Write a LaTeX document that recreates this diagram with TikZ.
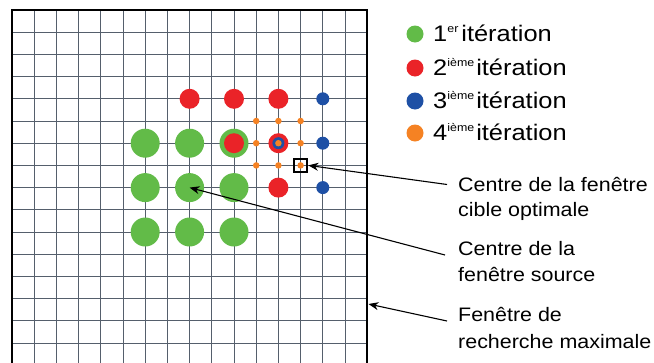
\documentclass[tikz,border=0pt]{standalone}
\usepackage{fontspec}
\setmainfont{Liberation Sans}
\newfontfamily\legfont[FakeStretch=1.13]{Liberation Sans}
\newfontfamily\lblfont[FakeStretch=1.1]{Liberation Sans}
\usetikzlibrary{arrows.meta}
\definecolor{cgreen}{RGB}{98,187,72}
\definecolor{cred}{RGB}{234,35,40}
\definecolor{cblue}{RGB}{30,80,165}
\definecolor{corange}{RGB}{245,130,35}
\definecolor{cgrid}{RGB}{85,95,108}
\newcommand{\supx}[1]{{\fontsize{11}{11}\selectfont\raisebox{9pt}{#1}}}
\begin{document}
\begin{tikzpicture}[x=1pt,y=-1pt,
 dot/.style={circle,inner sep=0pt,draw=none},
 gdot/.style={dot,fill=cgreen,minimum size=29pt},
 rdot/.style={dot,fill=cred,minimum size=20pt},
 bdot/.style={dot,fill=cblue,minimum size=13pt},
 odot/.style={dot,fill=corange,minimum size=6.5pt},
 legdot/.style={dot,minimum size=17pt},
 gridline/.style={cgrid,line width=0.9pt},
 frameline/.style={black,line width=2pt},
 arr/.style={line width=1.1pt,-{Stealth[length=10pt,width=8pt]}},
 leg/.style={anchor=base west,inner sep=0pt,font=\legfont\fontsize{22.5}{27}\selectfont},
 lbl/.style={anchor=base west,inner sep=0pt,font=\lblfont\fontsize{19.5}{24}\selectfont},
 boxsq/.style={draw=black,line width=2.5pt,minimum size=13pt,inner sep=0pt}
]
\useasboundingbox (0,0) rectangle (654,362);
\fill[white] (0,0) rectangle (654,362);
\begin{scope}
\clip (0,0) rectangle (654,362);
\foreach \k in {1,...,15} { \draw[gridline] ({12+22.2*\k},10) -- ({12+22.2*\k},370); }
\foreach \k in {1,...,16} { \draw[gridline] (12,{10+22.2*\k}) -- (367.2,{10+22.2*\k}); }
\draw[frameline] (12,370) -- (12,10) -- (367.2,10) -- (367.2,370);
\end{scope}
\coordinate (fr) at (368.5,304);
\begin{scope}[shift={(12,10)},x=22.2pt,y=-22.2pt]
 % 1st iteration
 \node[gdot] (g66) at (6,6) {};
 \node[gdot] (g86) at (8,6) {};
 \node[gdot] (g106) at (10,6) {};
 \node[gdot] (g68) at (6,8) {};
 \node[gdot] (g88) at (8,8) {};
 \node[gdot] (g108) at (10,8) {};
 \node[gdot] (g610) at (6,10) {};
 \node[gdot] (g810) at (8,10) {};
 \node[gdot] (g1010) at (10,10) {};
 % 2nd iteration
 \node[rdot] (r84) at (8,4) {};
 \node[rdot] (r104) at (10,4) {};
 \node[rdot] (r124) at (12,4) {};
 \node[rdot] (r106) at (10,6) {};
 \node[rdot] (r126) at (12,6) {};
 \node[rdot] (r128) at (12,8) {};
 % 3rd iteration
 \node[bdot] (b144) at (14,4) {};
 \node[bdot] (b146) at (14,6) {};
 \node[bdot] (b148) at (14,8) {};
 \node[bdot,minimum size=12pt] (b126) at (12,6) {};
 % 4th iteration
 \node[odot] (o115) at (11,5) {};
 \node[odot] (o125) at (12,5) {};
 \node[odot] (o135) at (13,5) {};
 \node[odot] (o116) at (11,6) {};
 \node[odot] (o126) at (12,6) {};
 \node[odot] (o136) at (13,6) {};
 \node[odot] (o117) at (11,7) {};
 \node[odot] (o127) at (12,7) {};
 \node[odot] (o137) at (13,7) {};
 \node[boxsq] (box) at (13,7) {};
\end{scope}
% legend
\node[legdot,fill=cgreen] (l1) at (415,34) {};
\node[legdot,fill=cred] (l2) at (415,68) {};
\node[legdot,fill=cblue] (l3) at (415,101) {};
\node[legdot,fill=corange] (l4) at (415,133) {};
\node[leg] (lt1) at (433,41) {1\supx{er}\hspace{3pt}itération};
\node[leg] (lt2) at (433,75) {2\supx{ième}\hspace{2pt}itération};
\node[leg] (lt3) at (433,108) {3\supx{ième}\hspace{2pt}itération};
\node[leg] (lt4) at (433,140) {4\supx{ième}\hspace{2pt}itération};
% labels
\node[lbl] (t1a) at (458,191.5) {Centre de la fenêtre};
\node[lbl] (t1b) at (458,216.5) {cible optimale};
\node[lbl] (t2a) at (458,255) {Centre de la};
\node[lbl] (t2b) at (458,281.5) {fenêtre source};
\node[lbl] (t3a) at (458,321) {Fenêtre de};
\node[lbl] (t3b) at (458,348) {recherche maximale};
% connectors
\draw[arr] ([xshift=-11pt]t1a.west) -- (box.east);
\draw[arr] ([xshift=-13pt]t2a.base west) -- (g88.center);
\draw[arr] ([xshift=-11pt]t3a.base west) -- (fr);
\end{tikzpicture}
\end{document}
